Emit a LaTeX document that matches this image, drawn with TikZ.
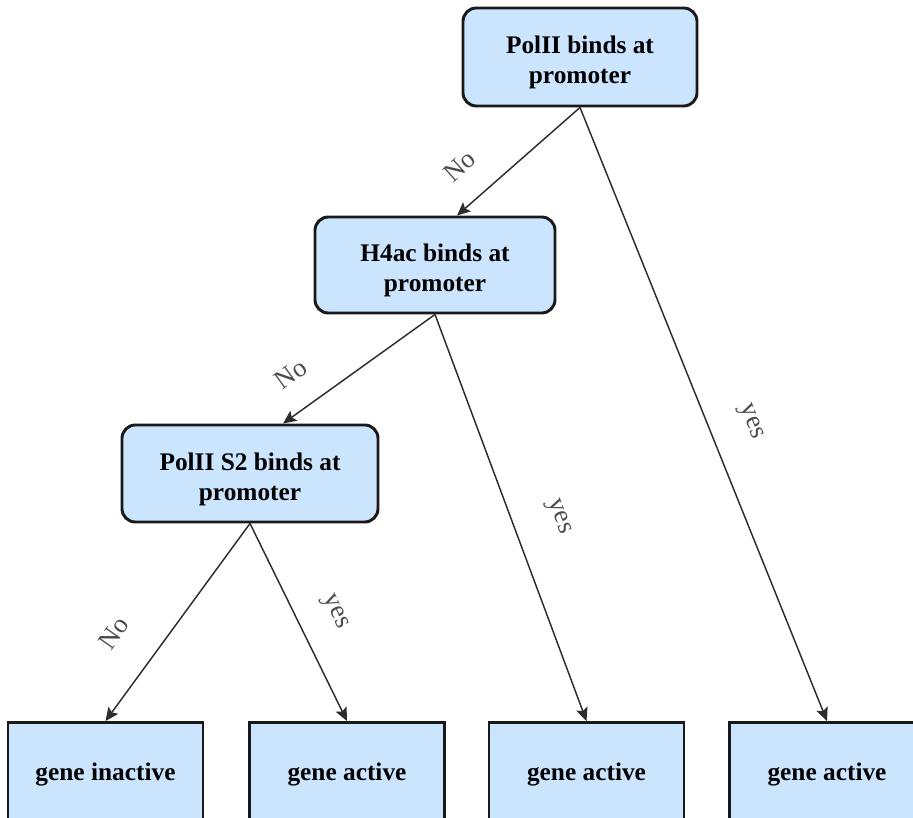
\documentclass[tikz,border=0pt]{standalone}
\usepackage{fontspec}
\setmainfont{Liberation Serif}
\usetikzlibrary{arrows.meta,positioning}
\definecolor{boxblue}{RGB}{204,229,255}
\definecolor{edgegray}{RGB}{45,45,45}
\newcommand{\boxstrut}{\rule{0pt}{22pt}}
\tikzset{
  decision/.style={draw=black!90, line width=2.2pt, fill=boxblue, rounded corners=10pt,
    align=center, inner sep=0pt, font=\fontsize{19}{22.5}\selectfont\bfseries},
  outcome/.style={draw=black!90, line width=2.2pt, fill=boxblue, inner sep=0pt,
    minimum width=146.25pt, minimum height=77.25pt, font=\fontsize{19}{22.5}\selectfont\bfseries},
  branch/.style={draw=edgegray, line width=1.1pt, -{Stealth[length=10pt,width=9pt,inset=2pt]}},
  answer/.style={text=black!70, inner sep=0pt, font=\fontsize{20}{22}\selectfont}
}

\begin{document}
\begin{tikzpicture}[x=0.75pt,y=-0.75pt]
	\useasboundingbox (0,0) rectangle (913,817);
	\clip (0,0) rectangle (913,817);
	% decisions
	\node[decision, minimum width=175.5pt, minimum height=73.5pt] (polii) at (580,57) {\boxstrut PolII binds at\\promoter};
	\node[decision, minimum width=180pt, minimum height=72pt] (hfourac) at (435,265) {\boxstrut H4ac binds at\\promoter};
	\node[decision, minimum width=192pt, minimum height=72.75pt] (poliis) at (250,473.5) {\boxstrut PolII S2 binds at\\promoter};
	% outcomes
	\node[outcome] (inactive) at (105.5,774) {gene inactive};
	\node[outcome] (activea) at (347,774) {gene active};
	\node[outcome] (activeb) at (586.5,774) {gene active};
	\node[outcome] (activec) at (827,774) {gene active};
	% branches
	\draw[branch] (polii.south) -- ([xshift=16.5pt]hfourac.north);
	\draw[branch] (polii.south) -- (activec.north);
	\draw[branch] (hfourac.south) -- ([xshift=24.75pt]poliis.north);
	\draw[branch] (hfourac.south) -- (activeb.north);
	\draw[branch] (poliis.south) -- (inactive.north);
	\draw[branch] (poliis.south) -- (activea.north);
	% answers
	\node[answer, rotate=42] (nopolii) at (460,166) {No};
	\node[answer, rotate=-68] (yespolii) at (750,422) {yes};
	\node[answer, rotate=36] (nohfour) at (291,374) {No};
	\node[answer, rotate=-70] (yeshfour) at (558,517) {yes};
	\node[answer, rotate=55] (nopoliis) at (114,633) {No};
	\node[answer, rotate=-65] (yespoliis) at (334,612) {yes};
\end{tikzpicture}
\end{document}
